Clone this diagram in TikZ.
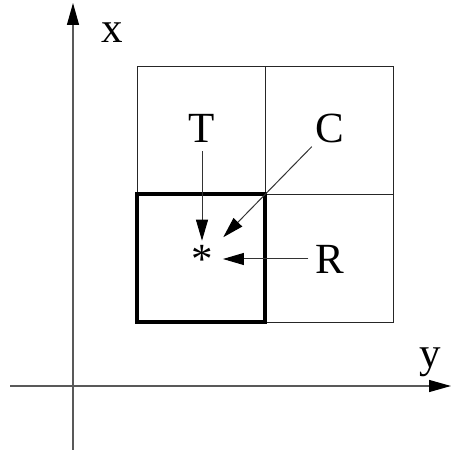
\documentclass[tikz,border=0pt]{standalone}
\usepackage{fontspec}
\setmainfont{Liberation Serif}
\usetikzlibrary{arrows.meta}
\tikzset{
  axis/.style={draw=black!65, line width=1.3pt, -{Triangle[length=22pt,width=12pt,color=black]}},
  cell/.style={draw=black!85, line width=0.9pt},
  focus/.style={draw=black, line width=3.6pt},
  pointer/.style={draw=black!80, line width=1pt, -{Triangle[length=21pt,width=12pt,color=black]}},
  lbl/.style={font=\fontsize{43}{48}\selectfont, inner sep=4pt}
}
\begin{document}
\begin{tikzpicture}[x=1pt,y=1pt]
\useasboundingbox (0,0) rectangle (451,453);
% axes
\coordinate (xfoot) at (73,3);
\coordinate (xtip) at (73,450);
\coordinate (yfoot) at (10,67);
\coordinate (ytip) at (451,67);
\draw[axis] (xfoot) -- (xtip);
\draw[axis] (yfoot) -- (ytip);
\node[lbl] (xlab) at (112,420) {x};
\node[lbl] (ylab) at (430,91) {y};
% cells
\foreach \i in {0,1}
  \foreach \j in {0,1}
    \draw[cell] ({137+128*\i},{131+128*\j}) rectangle ++(128,128);
\draw[focus] (137,131) rectangle (265,259);
% neighbours
\node[lbl] (T) at (202,325) {T};
\node[lbl] (C) at (330,325) {C};
\node[lbl] (R) at (330,194) {R};
\node[lbl] (star) at (202,194) {*};
\draw[pointer, shorten <=5pt] (T) -- (star);
\draw[pointer, shorten >=9pt] (C) -- (star);
\draw[pointer, shorten >=6pt, shorten <=3pt] (R) -- (star);
\end{tikzpicture}
\end{document}
